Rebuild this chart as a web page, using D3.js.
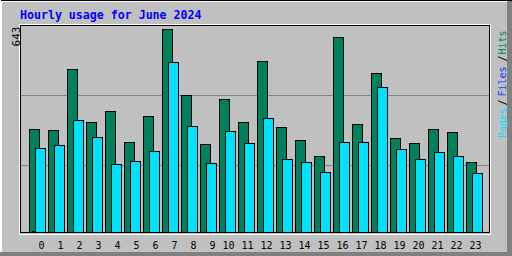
<!DOCTYPE html>
<html>
<head>
<meta charset="utf-8">
<script src="https://cdn.jsdelivr.net/npm/d3@7"></script>
<style>
    html, body { margin: 0; padding: 0; background: #c0c0c0; }
    svg { display: block; }
</style>
</head>
<body>
<div id="chart"></div>
<script>
// values
const hourLabels = ['0', '1', '2', '3', '4', '5', '6', '7', '8', '9', '10', '11',
    '12', '13', '14', '15', '16', '17', '18', '19', '20', '21', '22', '23'];
const hits = [326, 323, 516, 348, 383, 285, 367, 643, 434, 279, 421, 348,
    542, 333, 291, 241, 618, 342, 504, 298, 282, 326, 317, 222];
const files = [3, 0, 0, 0, 0, 0, 0, 0, 0, 0, 0, 0,
    0, 0, 0, 0, 0, 0, 0, 0, 0, 0, 0, 0];
const pages = [266, 276, 355, 301, 215, 225, 257, 538, 336, 219, 320, 282,
    361, 231, 222, 190, 285, 285, 459, 263, 231, 253, 241, 187];
const maxValue = 643;
const gridFractions = [1 / 3, 2 / 3];

const title = 'Hourly usage for June 2024';
const legendItems = [
    { text: 'Pages', color: '#00e0ff', y: 138 },
    { text: '/', color: '#000000', y: 105.5 },
    { text: 'Files', color: '#0040ff', y: 96.5 },
    { text: '/', color: '#000000', y: 61.5 },
    { text: 'Hits', color: '#00805c', y: 54.5 }
];

const width = 512;
const height = 256;
const mono = "'DejaVu Sans Mono', monospace";

const svg = d3.select('#chart')
    .append('svg')
    .attr('width', width)
    .attr('height', height)
    .attr('shape-rendering', 'crispEdges');

// background + bevel
svg.append('rect')
    .attr('width', width)
    .attr('height', height)
    .attr('fill', '#c0c0c0');

svg.append('rect')
    .attr('x', 507).attr('y', 0)
    .attr('width', 5).attr('height', height)
    .attr('fill', '#808080');

svg.append('rect')
    .attr('x', 0).attr('y', 252)
    .attr('width', width).attr('height', 4)
    .attr('fill', '#808080');

svg.append('line')
    .attr('x1', 0).attr('x2', 507).attr('y1', 1.5).attr('y2', 1.5)
    .attr('stroke', '#ffffff');

svg.append('line')
    .attr('x1', 1.5).attr('x2', 1.5).attr('y1', 0).attr('y2', 252)
    .attr('stroke', '#ffffff');

svg.append('line')
    .attr('x1', 0).attr('x2', width).attr('y1', 0.5).attr('y2', 0.5)
    .attr('stroke', '#000000');

svg.append('line')
    .attr('x1', 0.5).attr('x2', 0.5).attr('y1', 0).attr('y2', 252)
    .attr('stroke', '#ffffff');

// scales
const x = d3.scaleLinear()
    .domain([0, 23])
    .range([29, 466]);

const y = d3.scaleLinear()
    .domain([0, maxValue])
    .range([232, 29]);

const gridY = d3.scaleLinear()
    .domain([0, 1])
    .range([235, 25]);

// plot frame
svg.append('rect')
    .attr('x', 19.5).attr('y', 24.5)
    .attr('width', 471).attr('height', 210)
    .attr('fill', 'none')
    .attr('stroke', '#ffffff');

svg.append('rect')
    .attr('x', 20.5).attr('y', 25.5)
    .attr('width', 469).attr('height', 207)
    .attr('fill', '#c0c0c0')
    .attr('stroke', '#000000');

svg.selectAll('.grid')
    .data(gridFractions)
    .enter()
    .append('line')
    .attr('class', 'grid')
    .attr('x1', 21)
    .attr('x2', 489)
    .attr('y1', d => Math.round(gridY(d)) + 0.5)
    .attr('y2', d => Math.round(gridY(d)) + 0.5)
    .attr('stroke', '#808080');

// bars
const drawBars = (values, offset, color, cls) => {
    svg.selectAll('.' + cls)
        .data(values.map((v, i) => ({ v, i })).filter(d => d.v > 0))
        .enter()
        .append('rect')
        .attr('class', cls)
        .attr('x', d => x(d.i) + offset + 0.5)
        .attr('y', d => Math.round(y(d.v)) + 0.5)
        .attr('width', 10)
        .attr('height', d => y(0) - Math.round(y(d.v)))
        .attr('fill', color)
        .attr('stroke', '#000000')
        .attr('stroke-width', 1);
};

drawBars(hits, 0, '#00805c', 'bar-hits');
drawBars(files, 3, '#0040ff', 'bar-files');
drawBars(pages, 6, '#00e0ff', 'bar-pages');

// hour labels
svg.selectAll('.hour-label')
    .data(hourLabels)
    .enter()
    .append('text')
    .attr('class', 'hour-label')
    .attr('x', (d, i) => x(i) + 15.5)
    .attr('y', 249)
    .attr('text-anchor', 'end')
    .style('font-family', mono)
    .style('font-size', '10px')
    .style('fill', '#000000')
    .text(d => d);

// title
svg.append('text')
    .attr('x', 20)
    .attr('y', 19)
    .style('font-family', mono)
    .style('font-weight', 'bold')
    .style('font-size', '11.6px')
    .style('fill', '#0000ff')
    .text(title);

// max value label
svg.append('text')
    .attr('transform', 'translate(19.5, 26.5) rotate(-90)')
    .attr('text-anchor', 'end')
    .style('font-family', mono)
    .style('font-size', '11px')
    .style('fill', '#000000')
    .text(maxValue);

// legend on the right
svg.selectAll('.legend')
    .data(legendItems)
    .enter()
    .append('text')
    .attr('class', 'legend')
    .attr('transform', d => `translate(505.5, ${d.y}) rotate(-90)`)
    .style('font-family', mono)
    .style('font-size', '10px')
    .style('fill', d => d.color)
    .text(d => d.text);
</script>
</body>
</html>
